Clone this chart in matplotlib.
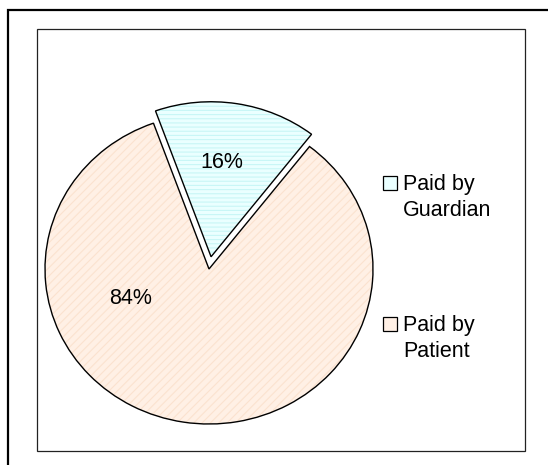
import matplotlib
matplotlib.use('Agg')
import matplotlib.pyplot as plt
from matplotlib.patches import Rectangle

# data
labels = ['Paid by\nGuardian', 'Paid by\nPatient']
values = [16, 84]
pct_text = ['16%', '84%']
face_colors = ['#EAFFFF', '#FFF0E5']
hatch_colors = ['#C8F6F6', '#FBE2CF']
hatches = ['----', '////']

W, H = 548, 465
plt.rcParams['font.family'] = ['Liberation Sans', 'DejaVu Sans']
plt.rcParams['hatch.linewidth'] = 0.8

fig = plt.figure(figsize=(W / 100, H / 100), dpi=100)


def px(x, y):
    # pixel (from top-left) -> figure fraction
    return x / W, 1 - y / H


# frames
fig.patches.append(Rectangle(px(7.5, 600), 700 / W, (600 - 9.5) / H, transform=fig.transFigure,
                             fill=False, edgecolor='black', linewidth=1.6))
x0, y0 = px(37, 451)
fig.patches.append(Rectangle((x0, y0), (525 - 37) / W, (451 - 29) / H, transform=fig.transFigure,
                             fill=False, edgecolor='#222222', linewidth=0.9))

# pie axes: unit radius = 164 px wide, 155 px tall, centre at (209, 269)
rx, ry, cx, cy = 164, 155, 209, 269
lim = 1.2
ax = fig.add_axes([(cx - lim * rx) / W, (H - cy - lim * ry) / H, 2 * lim * rx / W, 2 * lim * ry / H])

explode = [0.08, 0]
wedges, _ = ax.pie(values, explode=explode, startangle=52.2, colors=face_colors,
                   hatch=hatches, wedgeprops=dict(linewidth=0))
for w, hc in zip(wedges, hatch_colors):
    w.set_edgecolor(hc)
ax.pie(values, explode=explode, startangle=52.2,
       wedgeprops=dict(facecolor='none', edgecolor='black', linewidth=1.0))
ax.set_aspect('auto')
ax.set_xlim(-lim, lim)
ax.set_ylim(-lim, lim)
ax.axis('off')

ax.text(0.079, 0.684, pct_text[0], ha='center', va='center', fontsize=15.5)
ax.text(-0.48, -0.19, pct_text[1], ha='center', va='center', fontsize=15.5)

# legend
legend_y = [183, 324]
for lab, fc, hc, h, ly in zip(labels, face_colors, hatch_colors, hatches, legend_y):
    bx, by = px(383, ly + 7)
    fig.patches.append(Rectangle((bx, by), 14 / W, 14 / H, transform=fig.transFigure,
                                 facecolor=fc, edgecolor='black', linewidth=0.9))
    for i, line in enumerate(lab.split('\n')):
        tx, ty = px(403, ly + 7 + 26 * i)
        fig.text(tx, ty, line, ha='left', va='baseline', fontsize=15.5)

fig.savefig('out.png', dpi=100)
